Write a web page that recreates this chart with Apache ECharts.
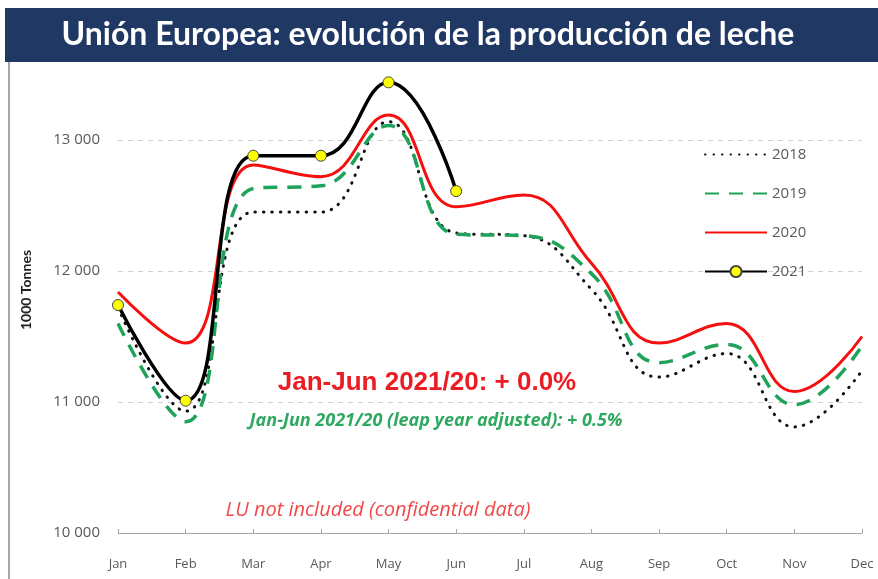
<!DOCTYPE html>
<html>
<head>
<meta charset="utf-8">
<script src="https://cdn.jsdelivr.net/npm/echarts@6/dist/echarts.min.js"></script>
<style>
  html, body { margin: 0; padding: 0; background: #fff; }
  #main { width: 878px; height: 579px; }
</style>
</head>
<body>
<div id="main"></div>
<script>
// datos (1000 t)
var months = ['Jan', 'Feb', 'Mar', 'Apr', 'May', 'Jun', 'Jul', 'Aug', 'Sep', 'Oct', 'Nov', 'Dec'];
var years = ['2018', '2019', '2020', '2021'];
var p2018 = [11720, 10930, 12450, 12450, 13140, 12290, 12270, 11860, 11190, 11370, 10810, 11240];
var p2019 = [11600, 10850, 12630, 12650, 13110, 12280, 12270, 11980, 11300, 11440, 10980, 11430];
var p2020 = [11840, 11450, 12810, 12720, 13190, 12490, 12580, 12060, 11450, 11600, 11080, 11500];
var p2021 = [11740, 11010, 12880, 12880, 13440, 12610];
var yTicks = [10000, 11000, 12000, 13000];

var chart = echarts.init(document.getElementById('main'));

// en la leyenda solo 2021 lleva marcador
var legendData = years.map(function (y) {
  if (y === '2021') return { name: y };
  return { name: y, itemStyle: { opacity: 0 } };
});

var option = {
  animation: false,
  grid: { left: 118, right: 16, top: 9, bottom: 46 },
  legend: {
    data: legendData,
    orient: 'vertical',
    left: 699,
    top: 142,
    itemWidth: 62,
    itemHeight: 14,
    itemGap: 24,
    textStyle: { color: '#595959', fontSize: 15, fontFamily: 'Open Sans' }
  },
  xAxis: {
    type: 'category',
    data: months,
    boundaryGap: false,
    axisLine: { lineStyle: { color: '#a6a6a6', width: 1 } },
    axisTick: { show: true, inside: true, length: 4, lineStyle: { color: '#a6a6a6' } },
    axisLabel: { color: '#595959', fontSize: 13, fontFamily: 'Open Sans', margin: 25 }
  },
  yAxis: {
    type: 'value',
    min: 10000,
    max: 14000,
    interval: 1000,
    axisLine: { show: false },
    axisTick: { show: false },
    axisLabel: {
      color: '#595959',
      fontSize: 15,
      fontFamily: 'Open Sans',
      margin: 18,
      formatter: function (v) {
        if (yTicks.indexOf(v) < 0) return '';
        return String(v).replace(/\B(?=(\d{3})+(?!\d))/g, ' ');
      }
    },
    splitLine: { lineStyle: { color: '#d0d0d0', type: [5, 5], width: 1 } }
  },
  series: [
    {
      name: '2018', type: 'line', data: p2018, smooth: 0.45,
      symbol: 'none',
      lineStyle: { color: '#111', width: 3, type: [0.5, 8], cap: 'round' },
      itemStyle: { color: '#111' }
    },
    {
      name: '2019', type: 'line', data: p2019, smooth: 0.45,
      symbol: 'none',
      lineStyle: { color: '#1fa35a', width: 3.5, type: [14, 10] },
      itemStyle: { color: '#1fa35a' }
    },
    {
      name: '2020', type: 'line', data: p2020, smooth: 0.45,
      symbol: 'none',
      lineStyle: { color: '#f50f0f', width: 3 },
      itemStyle: { color: '#f50f0f' }
    },
    {
      name: '2021', type: 'line', data: p2021, smooth: 0.45,
      symbol: 'circle', symbolSize: 11,
      lineStyle: { color: '#000', width: 3.5 },
      itemStyle: { color: '#ffff00', borderColor: '#444', borderWidth: 1 }
    }
  ],
  graphic: [
    // barra del titulo
    {
      type: 'rect', z: 100,
      shape: { x: 5, y: 8, width: 873, height: 54 },
      style: { fill: '#1f3864' }
    },
    {
      type: 'text', z: 101, x: 428, y: 35,
      style: {
        text: 'Unión Europea: evolución de la producción de leche',
        fill: '#fff', font: 'bold 32px Lato',
        textAlign: 'center', textVerticalAlign: 'middle'
      }
    },
    // borde izquierdo
    {
      type: 'line', z: 100,
      shape: { x1: 9, y1: 62, x2: 9, y2: 579 },
      style: { stroke: '#a6a6a6', lineWidth: 2 }
    },
    {
      type: 'text', x: 26, y: 290, rotation: Math.PI / 2,
      style: {
        text: '1000 Tonnes', fill: '#222', font: 'bold 14px Lato',
        textAlign: 'center', textVerticalAlign: 'middle'
      }
    },
    {
      type: 'text', x: 427, y: 383,
      style: {
        text: 'Jan-Jun 2021/20: + 0.0%', fill: '#ec1c24',
        font: 'bold 26px "Liberation Sans"',
        textAlign: 'center', textVerticalAlign: 'middle'
      }
    },
    {
      type: 'text', x: 436, y: 421,
      style: {
        text: 'Jan-Jun 2021/20 (leap year adjusted): + 0.5%', fill: '#2fa860',
        font: 'italic bold 18px "Open Sans"',
        textAlign: 'center', textVerticalAlign: 'middle'
      }
    },
    {
      type: 'text', x: 378, y: 510,
      style: {
        text: 'LU not included (confidential data)', fill: '#f04848',
        font: 'italic 20px "Open Sans"',
        textAlign: 'center', textVerticalAlign: 'middle'
      }
    }
  ]
};

chart.setOption(option);
</script>
</body>
</html>
